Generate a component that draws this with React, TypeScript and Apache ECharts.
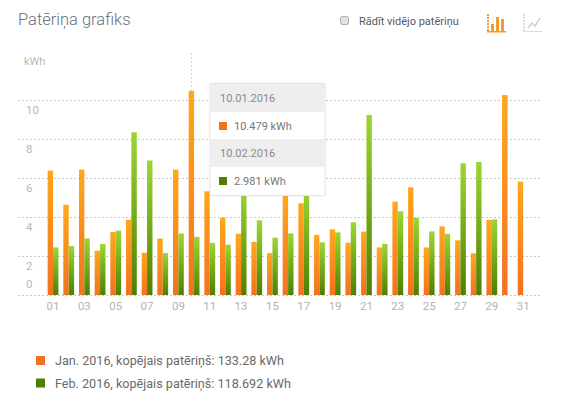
import React, { useEffect, useRef } from "react";
import * as echarts from "echarts";

const days = ["01","02","03","04","05","06","07","08","09","10","11","12","13","14","15","16","17","18","19","20","21","22","23","24","25","26","27","28","29","30","31"];
const janValues = [6.38,4.63,6.43,2.27,3.23,3.86,2.17,2.9,6.43,10.479,5.32,3.96,3.14,2.72,2.15,5.3,4.7,3.08,3.37,2.68,3.25,2.44,4.79,5.52,2.44,3.52,2.8,2.14,3.85,10.25,5.81];
const febValues = [2.44,2.51,2.9,2.62,3.3,8.34,6.9,2.15,3.16,2.981,2.67,2.58,5.4,3.83,2.94,3.16,5.4,2.7,3.21,3.73,9.23,2.62,4.29,3.96,3.26,3.14,6.75,6.82,3.88,null,null];
const janName = "Jan. 2016, kopējais patēriņš: 133.28 kWh";
const febName = "Feb. 2016, kopējais patēriņš: 118.692 kWh";

const FONT = "Roboto";
const grad = (a: string, b: string) =>
  new echarts.graphic.LinearGradient(0, 0, 0, 1, [
    { offset: 0, color: a },
    { offset: 1, color: b },
  ]);

export default function App() {
  const ref = useRef<HTMLDivElement>(null);
  useEffect(() => {
    document.body.style.margin = "0";
    const chart = echarts.init(ref.current!, undefined, { renderer: "svg" });
    const label = (text: string, x: number, y: number, fill: string, fontSize = 11) => ({
      type: "text", x, y, z: 20,
      style: { text, fill, fontFamily: FONT, fontSize, verticalAlign: "middle", align: "left" },
    });
    const rect = (x: number, y: number, width: number, height: number, fill: string) => ({
      type: "rect", z: 19, shape: { x, y, width, height }, style: { fill },
    });
    chart.setOption({
      animation: false,
      backgroundColor: "#fff",
      textStyle: { fontFamily: FONT },
      title: {
        text: "Patēriņa grafiks", left: 18, top: 11, padding: 0,
        textStyle: { fontFamily: FONT, fontSize: 16.5, fontWeight: 300, color: "#68707c" },
      },
      grid: [
        { left: 45.2, width: 485.8, top: 53, height: 242 },
        { left: 18, width: 522, top: 100.5, height: 194.5 },
      ],
      xAxis: [
        {
          type: "category", gridIndex: 0, data: days,
          axisLine: { show: false }, axisTick: { show: false },
          axisLabel: { interval: 1, margin: 5, color: "#b3b3b3", fontSize: 11.5, fontFamily: FONT },
        },
        { type: "value", gridIndex: 1, min: 0, max: 1, show: false },
      ],
      yAxis: [
        { type: "value", gridIndex: 0, min: 0, max: 12.41, show: false },
        {
          type: "value", gridIndex: 1, min: 0, max: 10, interval: 2,
          axisLine: { show: false }, axisTick: { show: false },
          splitLine: { show: true, lineStyle: { color: "#c8c8c8", type: [2, 2], width: 1 } },
          axisLabel: {
            inside: true, margin: 8, color: "#b8b8b8", fontSize: 11.5, fontFamily: FONT,
            formatter: (v: number) => (v === 0 ? `{z|0}` : `{n|${v}}`),
            rich: {
              z: { padding: [0, 0, 22, 0], color: "#b8b8b8", fontSize: 11.5, fontFamily: FONT },
              n: { padding: [19, 0, 0, 0], color: "#b8b8b8", fontSize: 11.5, fontFamily: FONT },
            },
          },
        },
      ],
      legend: {
        orient: "vertical", left: 36, top: 354, padding: 0, itemWidth: 9, itemHeight: 9, itemGap: 9.5,
        icon: "rect", selectedMode: false,
        textStyle: { fontFamily: FONT, fontSize: 12.6, color: "#6a6a6a", padding: [0, 0, 0, 5] },
        data: [
          { name: janName, itemStyle: { color: "#f4711f" } },
          { name: febName, itemStyle: { color: "#4f7f00" } },
        ],
      },
      series: [
        {
          name: janName, type: "bar", xAxisIndex: 0, yAxisIndex: 0, data: janValues,
          barWidth: 5.4, barGap: 0, z: 3,
          itemStyle: { color: grad("#ffa81c", "#f4711f") },
          markLine: {
            silent: true, symbol: "none", label: { show: false }, z: 1,
            lineStyle: { color: "#d4d4d4", type: [2, 2], width: 1 },
            data: [{ xAxis: "10" }],
          },
        },
        {
          name: febName, type: "bar", xAxisIndex: 0, yAxisIndex: 0, data: febValues,
          barWidth: 5.4, barGap: 0, z: 3,
          itemStyle: { color: grad("#9cd633", "#4f7f00") },
        },
      ],
      graphic: [
        label("kWh", 24, 61, "#b8b8b8", 11),
        {
          type: "rect", z: 18, shape: { x: 340.5, y: 16.5, width: 8, height: 8, r: 2 },
          style: { fill: "#e2e2e2", stroke: "#ababab", lineWidth: 1 },
        },
        label("Rādīt vidējo patēriņu", 359, 21, "#555b66", 11),
        // bar icon
        rect(487, 31, 19, 1.5, "#f79a2a"),
        {
          type: "line", z: 19, shape: { x1: 488, y1: 14, x2: 488, y2: 31 },
          style: { stroke: "#f79a2a", lineWidth: 2, lineDash: [2, 1] },
        },
        rect(491, 24, 3, 7, "#f79a2a"), rect(496, 17, 3, 14, "#f79a2a"), rect(501, 19, 3, 12, "#f79a2a"),
        // line icon
        rect(523, 31, 19, 1, "#dcdcdc"),
        {
          type: "line", z: 19, shape: { x1: 524, y1: 14, x2: 524, y2: 31 },
          style: { stroke: "#dcdcdc", lineWidth: 2, lineDash: [2, 1] },
        },
        {
          type: "polyline", z: 19,
          shape: { points: [[528, 28], [532, 23], [535, 26], [540, 18]] },
          style: { stroke: "#d0d0d0", lineWidth: 1.5, fill: "none" },
        },
        // tooltip
        {
          type: "rect", z: 18, shape: { x: 210, y: 83.5, width: 115, height: 112 },
          style: { fill: "#fff", stroke: "#e6e6e6", lineWidth: 1, shadowBlur: 2, shadowColor: "rgba(0,0,0,0.08)" },
        },
        rect(210.5, 84, 114, 28, "#eeeeee"),
        rect(210.5, 139, 114, 28, "#eeeeee"),
        label("10.01.2016", 220, 98, "#8a8a8a"),
        rect(219, 122, 8, 8, "#f4711f"),
        label("10.479 kWh", 234, 126, "#777777"),
        label("10.02.2016", 220, 153, "#8a8a8a"),
        rect(219, 177, 8, 8, "#4f7f00"),
        label("2.981 kWh", 234, 181, "#777777"),
      ],
    });
    return () => chart.dispose();
  }, []);
  return <div ref={ref} style={{ position: "absolute", left: 0, top: 0, width: 561, height: 402 }} />;
}
